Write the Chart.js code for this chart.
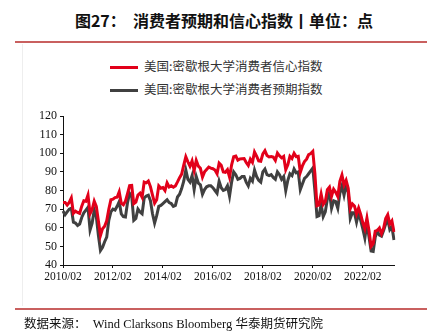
<!DOCTYPE html>
<html>
<head>
<meta charset="utf-8">
<script src="https://cdn.jsdelivr.net/npm/chart.js@4"></script>
<style>
  body { margin: 0; background: #fff; }
  #wrap { position: relative; width: 442px; height: 335px; overflow: hidden; }
  #title { position: absolute; left: 0; width: 448px; top: 8px; text-align: center;
    font: bold 16px "Noto Sans CJK SC", sans-serif; color: #111; white-space: pre; }
  .rule { position: absolute; left: 15px; width: 412px; height: 2px; background: #c9605f; }
  #box { position: absolute; left: 22px; top: 44px; width: 403px; height: 262px; border-left: 1px solid #eee; }
  .leg { position: absolute; left: 110px; height: 16px; font: 12.5px "Noto Sans CJK SC", serif; color: #333; }
  .leg span { display: inline-block; width: 28px; height: 3px; vertical-align: middle; margin-right: 6px; }
  #src { position: absolute; left: 24px; top: 313px; font: 12.5px "Liberation Serif", "Noto Sans CJK SC", serif; color: #111; white-space: pre; }
  canvas { position: absolute; left: 0; top: 0; }
</style>
</head>
<body>
<div id="wrap">
  <div id="title">图27：  消费者预期和信心指数丨单位：点</div>
  <div class="rule" style="top:41px"></div>
  <div id="box"></div>
  <div class="leg" style="top:56px"><span style="background:#e2001a"></span>美国:密歇根大学消费者信心指数</div>
  <div class="leg" style="top:79px"><span style="background:#404040"></span>美国:密歇根大学消费者预期指数</div>
  <canvas id="chart" width="442" height="335"></canvas>
  <div class="rule" style="top:308px"></div>
  <div id="src">数据来源：  Wind Clarksons Bloomberg 华泰期货研究院</div>
</div>
<script>
// 月度数据 2010/02 - 2023/05
const startYear = 2010, startMonth = 2, monthCount = 160;
const labels = [];
for (let i = 0; i < monthCount; i++) {
    const m = startMonth - 1 + i;
    const y = startYear + Math.floor(m / 12);
    const mm = (m % 12) + 1;
    labels.push(y + "/" + (mm < 10 ? "0" + mm : mm));
}

// 信心指数
const sentiment = [
    73.6, 73.6, 72.2, 73.6, 76.0, 67.8, 68.9, 68.2, 67.7, 71.6, 74.5,            // 2010
    74.2, 77.5, 67.5, 69.8, 74.3, 71.5, 63.7, 55.8, 59.5, 60.8, 63.7, 69.9,      // 2011
    75.0, 75.3, 76.2, 76.4, 79.3, 73.2, 72.3, 74.3, 78.3, 82.6, 82.7, 72.9,      // 2012
    73.8, 77.6, 78.6, 76.4, 84.5, 84.1, 85.1, 82.1, 77.5, 73.2, 75.1, 82.5,      // 2013
    81.2, 81.6, 80.0, 84.1, 81.9, 82.5, 81.8, 82.5, 84.6, 86.9, 88.8, 93.6,      // 2014
    98.1, 95.4, 93.0, 95.9, 90.7, 96.1, 93.1, 91.9, 87.2, 90.0, 91.3, 92.6,      // 2015
    92.0, 91.7, 91.0, 89.0, 94.7, 93.5, 90.0, 89.8, 91.2, 87.2, 93.8, 98.2,      // 2016
    98.5, 96.3, 96.9, 97.0, 97.1, 95.0, 93.4, 96.8, 95.1, 100.7, 98.5, 95.9,     // 2017
    95.7, 99.7, 101.4, 98.8, 98.0, 98.2, 97.9, 96.2, 100.1, 98.6, 97.5, 98.3,    // 2018
    91.2, 93.8, 98.4, 97.2, 100.0, 98.2, 98.4, 89.8, 93.2, 95.5, 96.8, 99.3,     // 2019
    99.8, 101.0, 89.1, 71.8, 72.3, 78.1, 72.5, 74.1, 80.4, 81.8, 76.9, 80.7,     // 2020
    79.0, 76.8, 84.9, 88.3, 82.9, 85.5, 81.2, 70.3, 72.8, 71.7, 67.4, 70.6,      // 2021
    67.2, 62.8, 59.4, 65.2, 58.4, 50.0, 51.5, 58.2, 58.6, 59.9, 56.8, 59.7,      // 2022
    64.9, 67.0, 62.0, 63.7, 57.7                                                 // 2023
];

// 预期指数
const expectations = [
    69.0, 67.0, 68.5, 70.0, 70.5, 63.0, 62.5, 61.2, 62.0, 65.5, 68.0,            // 2010
    69.5, 71.0, 58.8, 62.5, 69.5, 66.0, 56.0, 47.8, 49.5, 52.5, 55.0, 64.0,      // 2011
    68.5, 70.0, 69.5, 71.5, 74.0, 67.5, 66.0, 65.8, 73.5, 78.5, 77.0, 64.0,      // 2012
    65.0, 70.0, 68.5, 67.5, 76.0, 77.0, 77.5, 74.5, 67.5, 62.5, 66.5, 71.5,      // 2013
    72.0, 73.0, 74.0, 75.0, 73.5, 73.0, 71.5, 72.0, 76.5, 78.0, 81.0, 85.0,      // 2014
    91.0, 86.0, 84.5, 88.0, 80.5, 87.5, 84.0, 83.0, 78.0, 80.5, 82.0, 82.5,      // 2015
    82.5, 81.5, 80.0, 78.5, 85.0, 81.5, 80.0, 80.5, 82.5, 77.0, 84.5, 90.0,      // 2016
    88.5, 86.0, 86.5, 87.5, 87.5, 84.5, 82.5, 86.5, 85.0, 91.0, 87.5, 85.5,      // 2017
    84.5, 90.0, 91.5, 88.5, 88.0, 88.5, 87.0, 86.0, 90.0, 88.5, 86.0, 87.5,      // 2018
    80.0, 85.5, 89.0, 88.0, 91.5, 89.5, 90.0, 80.5, 83.5, 86.5, 87.5, 89.0,      // 2019
    90.5, 92.0, 80.0, 66.0, 66.5, 72.5, 66.0, 68.5, 75.5, 79.0, 70.5, 74.5,      // 2020
    74.0, 70.5, 78.5, 82.5, 77.5, 83.0, 79.0, 65.0, 68.0, 68.0, 63.0, 68.0,      // 2021
    64.0, 59.5, 54.5, 62.5, 55.0, 47.5, 47.3, 55.0, 58.0, 56.0, 55.5, 58.5,      // 2022
    62.0, 64.5, 59.0, 60.5, 53.4                                                 // 2023
];

const yTicks = [40, 50, 60, 70, 80, 90, 100, 110, 120];
const labelEvery = 24;

const tickFont = { family: "Liberation Serif", size: 11.5 };

new Chart(document.getElementById("chart"), {
    type: "line",
    data: {
        labels: labels,
        datasets: [
            { label: "美国:密歇根大学消费者信心指数", data: sentiment, borderColor: "#e2001a", borderWidth: 3, pointRadius: 0, tension: 0 },
            { label: "美国:密歇根大学消费者预期指数", data: expectations, borderColor: "#404040", borderWidth: 3, pointRadius: 0, tension: 0 }
        ]
    },
    options: {
        responsive: false,
        animation: false,
        layout: { padding: { left: 0, right: 48, top: 116, bottom: 0 } },
        plugins: { legend: { display: false }, tooltip: { enabled: false } },
        scales: {
            x: {
                ticks: {
                    autoSkip: false, maxRotation: 0, font: tickFont, color: "#111", padding: 2,
                    callback: (v, i) => (i % labelEvery === 0 ? labels[i] : null)
                },
                grid: { display: true, drawOnChartArea: false, tickLength: 3, color: "#111" },
                border: { display: true, color: "#111", width: 1 },
                afterFit: s => { s.height = 70; }
            },
            y: {
                min: 40, max: 120,
                afterBuildTicks: s => { s.ticks = yTicks.map(v => ({ value: v })); },
                ticks: { font: { family: "Liberation Serif", size: 12 }, color: "#111", padding: 3 },
                grid: { display: true, drawOnChartArea: false, tickLength: 3, color: "#111" },
                border: { display: true, color: "#111", width: 1 },
                afterFit: s => { s.width = 63; }
            }
        }
    }
});
</script>
</body>
</html>
